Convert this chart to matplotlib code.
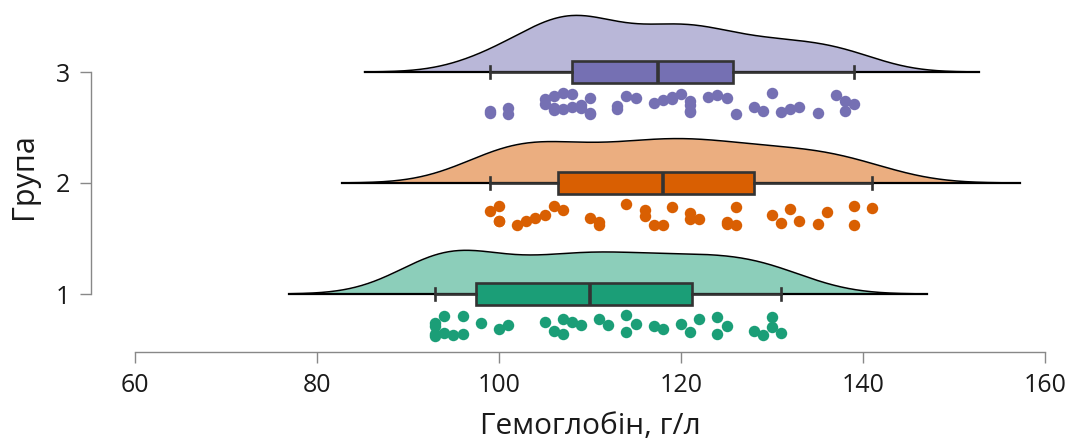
import numpy as np
import matplotlib
matplotlib.use("Agg")
import matplotlib.pyplot as plt

plt.rcParams['font.family'] = ['Open Sans', 'DejaVu Sans']

# Haemoglobin (g/l) by group
groups = [1, 2, 3]
group_labels = ["1", "2", "3"]
colors = ["#1b9e77", "#d95f02", "#7570b3"]

hb_group1 = [93, 93, 93, 93, 94, 94, 95, 96, 96, 98, 100, 101, 105, 106, 107,
             107, 108, 109, 111, 112, 114, 114, 115, 117, 118, 120, 121, 122,
             124, 124, 125, 128, 129, 130, 130, 131]
hb_group2 = [99, 100, 100, 100, 102, 103, 104, 105, 106, 107, 110, 111, 111,
             114, 116, 116, 117, 118, 119, 121, 121, 122, 125, 125, 126, 126,
             130, 131, 132, 133, 135, 136, 139, 139, 141]
hb_group3 = [99, 99, 101, 101, 105, 105, 106, 106, 106, 107, 107, 108, 108,
             109, 109, 110, 110, 110, 113, 113, 114, 115, 117, 118, 119, 119,
             120, 121, 121, 121, 121, 123, 124, 125, 126, 128, 129, 130, 131,
             132, 133, 135, 137, 138, 138, 139]

x_ticks = [60, 80, 100, 120, 140, 160]
x_label = "Гемоглобін, г/л"
y_label = "Група"

data = [np.asarray(hb_group1, float), np.asarray(hb_group2, float),
        np.asarray(hb_group3, float)]


def bw_nrd0(x):
    sd = x.std(ddof=1)
    q75, q25 = np.percentile(x, [75, 25])
    return 0.9 * min(sd, (q75 - q25) / 1.34) * len(x) ** (-0.2)


def gauss_kde(x, bw, grid):
    z = (grid[:, None] - x[None, :]) / bw
    return np.exp(-0.5 * z ** 2).sum(axis=1) / (len(x) * bw * np.sqrt(2 * np.pi))


fig = plt.figure(figsize=(10.67, 4.44), dpi=100)
ax = fig.add_axes([91 / 1067, 92 / 444, 976 / 1067, 352 / 444])

# half-violin density clouds (cut = 3 bandwidths)
curves = []
for x in data:
    bw = bw_nrd0(x) * 0.95
    grid = np.linspace(x.min() - 3 * bw, x.max() + 3 * bw, 512)
    curves.append((grid, gauss_kde(x, bw, grid)))
peak = max(d.max() for _, d in curves)
height = 0.51
for pos, col, (grid, dens) in zip(groups, colors, curves):
    top = pos + dens / peak * height
    ax.fill_between(grid, pos, top, color=col, alpha=0.5, lw=0, zorder=1)
    ax.plot(grid, top, color="black", lw=1.1, zorder=1.5)
    ax.plot([grid[0], grid[-1]], [pos, pos], color="black", lw=1.6, zorder=1.5)

# box plots on the baseline
edge = "#333333"
bp = ax.boxplot(data, positions=groups, orientation="horizontal", widths=0.2,
                patch_artist=True, showfliers=False, capwidths=0.1,
                medianprops=dict(color=edge, lw=2.6),
                boxprops=dict(edgecolor=edge, lw=1.9),
                whiskerprops=dict(color=edge, lw=1.9),
                capprops=dict(color=edge, lw=1.9),
                zorder=2)
for box, col in zip(bp["boxes"], colors):
    box.set_facecolor(col)

# jittered raw observations under each box
rng = np.random.default_rng(11)
for pos, col, x in zip(groups, colors, data):
    jit = rng.uniform(-0.1, 0.1, len(x))
    ax.scatter(x, pos - 0.285 + jit, s=68, color=col, lw=0, zorder=3)

xlim = (60 - 44 / 9.1, 60 + 932 / 9.1)
ax.set_xlim(*xlim)
ax.set_ylim(1 - 58 / 111, 3 + 72 / 111)

for side in ("top", "right"):
    ax.spines[side].set_visible(False)
for side in ("left", "bottom"):
    ax.spines[side].set_color("#888888")
    ax.spines[side].set_linewidth(1.0)
ax.spines["left"].set_bounds(1, 3)
ax.spines["bottom"].set_bounds(x_ticks[0], x_ticks[-1])

ax.set_xticks(x_ticks)
ax.set_xticklabels([str(t) for t in x_ticks])
ax.set_yticks(groups)
ax.set_yticklabels(group_labels)
ax.tick_params(axis="both", length=8, width=1.0, color="#888888",
               labelsize=18, labelcolor="#1a1a1a", pad=7)

ax.set_xlabel(x_label, fontsize=21.5, color="#1a1a1a", labelpad=10)
ax.set_ylabel(y_label, fontsize=22, color="#1a1a1a", labelpad=12)
# centre the x title under the drawn part of the axis line
mid = (x_ticks[0] + x_ticks[-1]) / 2
ax.xaxis.label.set_x((mid - xlim[0]) / (xlim[1] - xlim[0]))

fig.savefig("out.png", dpi=100)
